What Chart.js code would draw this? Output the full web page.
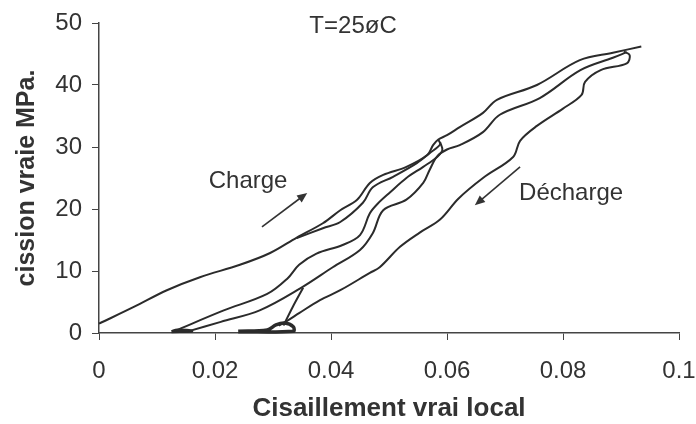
<!DOCTYPE html>
<html>
<head>
<meta charset="utf-8">
<script src="https://cdn.jsdelivr.net/npm/chart.js@4.4.0/dist/chart.umd.min.js"></script>
<style>
  body { margin: 0; background: #fff; }
  #wrap { width: 696px; height: 424px; }
</style>
</head>
<body>
<div id="wrap"><canvas id="myChart" width="696" height="424"></canvas></div>
<script>
// axis ticks
var xTicks = [0, 0.02, 0.04, 0.06, 0.08, 0.1];
var yTicks = [0, 10, 20, 30, 40, 50];

// branches of the curve as [shear, stress]
var charge1 = [[0,1.5],[0.006,4.2],[0.0117,6.9],[0.0174,9],[0.0243,11],[0.0295,12.9],[0.0341,15.4],[0.0386,17.7],[0.0416,19.8],[0.0445,21.5],[0.0467,24.2],[0.049,25.5],[0.053,26.8],[0.0566,28.7],[0.0576,30.3],[0.0585,31.2],[0.06,31.9],[0.0622,33.2],[0.0662,35.5],[0.0686,37.6],[0.0755,40],[0.0829,44],[0.0886,45.2],[0.0935,46.2]];
var branch2 = [[0.0341,15.3],[0.0386,16.9],[0.0416,17.9],[0.0455,21],[0.0472,23.5],[0.0507,25.2],[0.0548,27.4],[0.057,29],[0.0588,30.4],[0.0585,31.2]];
var loopUpper = [[0.013,0.3],[0.0214,3.6],[0.029,6.3],[0.0325,8.8],[0.0345,11],[0.0375,12.8],[0.042,14.2],[0.045,15.8],[0.0467,19.3],[0.048,20.8],[0.0502,22.7],[0.053,25],[0.0559,26.8],[0.0583,28.4],[0.0592,29.5],[0.0588,30.8]];
var loopLower = [[0.0155,0.3],[0.021,1.8],[0.0278,3.7],[0.0347,7.2],[0.0403,10.6],[0.045,13.4],[0.0472,16.1],[0.049,19.8],[0.053,21.5],[0.0559,24.2],[0.057,26.3],[0.0583,28.5],[0.06,29.6],[0.0622,30.3],[0.0662,32.4],[0.0691,35.2],[0.076,37.9],[0.083,42.4],[0.0886,44.4],[0.091,45.3]];
var reload3 = [[0.0318,1.2],[0.0334,4.2],[0.0352,7.3]];
var decharge = [[0.0905,45.4],[0.0915,44.8],[0.091,43.5],[0.0865,42.4],[0.0838,40.5],[0.0832,38.4],[0.08,36.2],[0.0755,33.4],[0.0726,31],[0.0714,28.4],[0.0662,25],[0.062,21.7],[0.0588,18.3],[0.0553,16.2],[0.0519,13.9],[0.0484,10.6],[0.0467,9.7],[0.0416,6.9],[0.0381,5.3],[0.0345,3.2],[0.0325,2],[0.031,1.2]];
var bump = [[0.024,0.3],[0.029,0.5],[0.0305,1.3],[0.032,1.6],[0.0335,1],[0.0335,0.3],[0.024,0.2]];
var foot = [[0.0125,0.2],[0.0135,0.5],[0.016,0.3],[0.0125,0.2]];

function pts(arr) {
  return arr.map(function (p) { return {x: p[0], y: p[1]}; });
}
function line(arr, w) {
  return {
    data: pts(arr),
    showLine: true,
    fill: false,
    borderColor: '#2b2b2b',
    borderWidth: w,
    pointRadius: 0,
    tension: 0.35,
    clip: 6
  };
}

var FONT = "'Liberation Sans', Arial, sans-serif";

// text and arrows drawn on top of the plot
var notes = {
  id: 'notes',
  afterDatasetsDraw: function (chart) {
    var ctx = chart.ctx, sx = chart.scales.x, sy = chart.scales.y;
    function X(v) { return sx.getPixelForValue(v); }
    function Y(v) { return sy.getPixelForValue(v); }
    ctx.save();
    ctx.fillStyle = '#333';
    ctx.strokeStyle = '#333';
    ctx.font = '24px ' + FONT;
    ctx.textAlign = 'center';
    ctx.textBaseline = 'middle';
    ctx.fillText('T=25øC', X(0.0438), Y(49.4));
    ctx.fillText('Charge', X(0.0257), Y(24.4));
    ctx.fillText('Décharge', X(0.0814), Y(22.6));

    function arrow(x1, y1, x2, y2) {
      var a = X(x1), b = Y(y1), c = X(x2), d = Y(y2);
      var ang = Math.atan2(d - b, c - a);
      ctx.lineWidth = 1.6;
      ctx.beginPath();
      ctx.moveTo(a, b);
      ctx.lineTo(c - 6 * Math.cos(ang), d - 6 * Math.sin(ang));
      ctx.stroke();
      ctx.beginPath();
      ctx.moveTo(c, d);
      ctx.lineTo(c - 11 * Math.cos(ang - 0.4), d - 11 * Math.sin(ang - 0.4));
      ctx.lineTo(c - 11 * Math.cos(ang + 0.4), d - 11 * Math.sin(ang + 0.4));
      ctx.closePath();
      ctx.fill();
    }
    arrow(0.0281, 17.1, 0.0359, 22.6);
    arrow(0.0726, 26.8, 0.0648, 20.6);
    ctx.restore();
  }
};

var ctx = document.getElementById('myChart').getContext('2d');
var chart = new Chart(ctx, {
  type: 'scatter',
  data: {
    datasets: [
      line(charge1, 2),
      line(branch2, 2),
      line(loopUpper, 2),
      line(loopLower, 2),
      line(reload3, 2),
      line(decharge, 2),
      line(bump, 3.5),
      line(foot, 3)
    ]
  },
  options: {
    responsive: false,
    animation: false,
    layout: { padding: { top: 23, right: 17, left: 0, bottom: 0 } },
    plugins: { legend: { display: false }, tooltip: { enabled: false } },
    scales: {
      x: {
        type: 'linear',
        min: 0,
        max: 0.1,
        afterBuildTicks: function (s) { s.ticks = xTicks.map(function (v) { return {value: v}; }); },
        ticks: {
          color: '#333',
          font: { family: FONT, size: 24 },
          padding: 17,
          maxRotation: 0,
          callback: function (v) { return String(+v.toFixed(2)); }
        },
        grid: { drawOnChartArea: false, tickLength: 7, color: '#444' },
        border: { color: '#444', width: 1.5 },
        title: {
          display: true,
          text: 'Cisaillement vrai local',
          color: '#333',
          font: { family: FONT, size: 26, weight: 'bold' },
          padding: { top: 4, bottom: 0 }
        },
        afterFit: function (s) {
          s.height = 91;
          s.paddingLeft = 0;
          s.paddingRight = 0;
        }
      },
      y: {
        min: 0,
        max: 50,
        afterBuildTicks: function (s) { s.ticks = yTicks.map(function (v) { return {value: v}; }); },
        ticks: {
          color: '#333',
          font: { family: FONT, size: 24 },
          padding: 10
        },
        grid: { drawOnChartArea: false, tickLength: 7, color: '#444' },
        border: { color: '#444', width: 1.5 },
        title: {
          display: true,
          text: 'cission vraie MPa.',
          color: '#333',
          font: { family: FONT, size: 25, weight: 'bold' },
          padding: { top: 12, bottom: 0 }
        },
        afterFit: function (s) {
          s.width = 99;
          s.paddingTop = 0;
          s.paddingBottom = 0;
        }
      }
    }
  },
  plugins: [notes]
});
</script>
</body>
</html>
